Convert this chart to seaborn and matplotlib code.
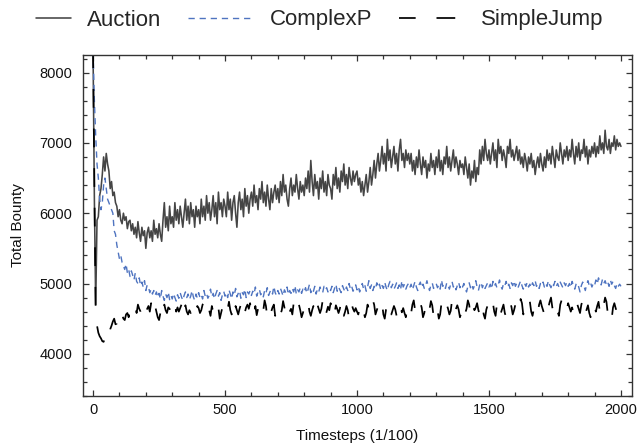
import numpy as np
import pandas as pd
import matplotlib
matplotlib.use("Agg")
import matplotlib.pyplot as plt
from matplotlib.ticker import MultipleLocator
from matplotlib.legend_handler import HandlerLine2D
import seaborn as sns

# ---------------- data ----------------
timesteps = list(range(0, 2001, 5))

auction = [
    8300, 6200, 4700, 5900, 5950, 6250, 6350, 6550, 6800, 6600, 6850, 6700, 6600, 6350, 6450, 6250, 6300, 6150, 6100, 5950,
    6050, 5900, 5850, 6000, 5900, 5950, 5780, 5880, 5900, 5750, 5850, 5700, 5800, 5650, 5880, 5720, 5600, 5800, 5680, 5750,
    5500, 5720, 5800, 5650, 5750, 5600, 5900, 5700, 5780, 5650, 5850, 5700, 5600, 5900, 6150, 5800, 5950, 5750, 6100, 5850,
    5950, 5800, 6150, 5900, 6050, 5850, 6100, 5950, 5800, 6000, 6200, 5900, 6100, 5850, 6150, 5950, 6050, 5800, 6100, 5950,
    6050, 5850, 6200, 5950, 6100, 5900, 6250, 6000, 6150, 5900, 6050, 6250, 5950, 6150, 5850, 6300, 6050, 6150, 5950, 6200,
    6100, 5950, 6300, 6050, 6200, 5900, 6150, 6250, 6000, 5800, 6150, 6300, 6050, 6200, 5950, 6350, 6100, 6250, 6000, 6200,
    6300, 6100, 6400, 6150, 6250, 6050, 6350, 6200, 6450, 6150, 6300, 6100, 6400, 6200, 6050, 6350, 6150, 6300, 6400, 6200,
    6350, 6150, 6450, 6250, 6550, 6300, 6400, 6200, 6100, 6350, 6500, 6250, 6400, 6300, 6550, 6350, 6200, 6450, 6300, 6400,
    6250, 6500, 6350, 6600, 6300, 6750, 6450, 6250, 6550, 6350, 6450, 6200, 6500, 6350, 6600, 6300, 6450, 6250, 6550, 6400,
    6350, 6200, 6550, 6400, 6650, 6350, 6500, 6300, 6600, 6450, 6700, 6400, 6550, 6350, 6650, 6500, 6400, 6600, 6450, 6550,
    6600, 6400, 6500, 6300, 6450, 6250, 6400, 6550, 6300, 6450, 6650, 6400, 6550, 6750, 6500, 6700, 6850, 6600, 6750, 6950,
    6700, 6850, 6600, 7050, 6750, 6900, 6650, 6800, 6950, 6700, 6850, 6600, 6900, 7050, 6750, 6850, 6650, 6900, 6750, 6850,
    6700, 6850, 6600, 6750, 6550, 6800, 6650, 6900, 6700, 6550, 6800, 6650, 6750, 6500, 6700, 6600, 6850, 6650, 6750, 6550,
    6800, 6650, 6900, 6600, 6750, 6550, 6800, 6700, 6950, 6650, 6800, 6600, 6750, 6900, 6650, 6800, 6700, 6550, 6750, 6650,
    6700, 6550, 6800, 6650, 6500, 6700, 6400, 6600, 6500, 6750, 6450, 6650, 6550, 6900, 6700, 6950, 6750, 7050, 6850, 6750,
    6900, 6700, 6850, 7000, 6750, 6900, 6650, 7050, 6850, 6950, 6750, 6900, 6800, 6650, 6950, 6850, 7050, 6800, 6900, 6750,
    6850, 6950, 6750, 6900, 6700, 6800, 6650, 6850, 6750, 6600, 6800, 6700, 6850, 6650, 6750, 6550, 6700, 6800, 6650, 6850,
    6700, 6600, 6800, 6650, 6900, 6750, 6850, 6700, 6950, 6800, 6650, 6900, 6800, 6750, 7000, 6850, 6700, 6900, 6800, 6950,
    6750, 6900, 6800, 7050, 6850, 6700, 6950, 6800, 7000, 6750, 6900, 6850, 7050, 6800, 6950, 6700, 6900, 6800, 6950, 6850,
    7000, 6800, 6950, 6850, 7100, 6900, 7000, 6850, 7180, 6950, 6900, 7050, 6850, 7000, 6950, 7100, 6900, 7050, 6950, 7000,
    6950,
]

complexp = [
    8300, 7600, 7100, 6700, 6500, 6200, 6050, 6150, 6400, 6500, 6350, 6200, 6150, 6100, 6050, 6000, 5750, 5700, 5550, 5450,
    5350, 5400, 5300, 5250, 5200, 5280, 5150, 5200, 5100, 5180, 5120, 5050, 5150, 5030, 5000, 5080, 4970, 5020, 4950, 5040,
    4900, 4980, 4950, 4870, 4920, 4850, 4900, 4830, 4880, 4800, 4860, 4780, 4900, 4820, 4760, 4850, 4800, 4880, 4770, 4830,
    4780, 4860, 4800, 4750, 4840, 4790, 4870, 4810, 4760, 4830, 4880, 4800, 4850, 4770, 4820, 4900, 4810, 4760, 4850, 4790,
    4870, 4800, 4840, 4780, 4900, 4820, 4860, 4790, 4830, 4920, 4810, 4860, 4780, 4850, 4900, 4820, 4870, 4760, 4840, 4890,
    4820, 4870, 4800, 4910, 4850, 4780, 4880, 4830, 4930, 4810, 4860, 4900, 4790, 4870, 4840, 4920, 4800, 4880, 4850, 4900,
    4830, 4890, 4850, 4950, 4820, 4880, 4920, 4840, 4870, 4810, 4900, 4860, 4940, 4830, 4880, 4910, 4850, 4960, 4870, 4830,
    4900, 4850, 4930, 4880, 4820, 4910, 4870, 4950, 4840, 4900, 4860, 4930, 4880, 4970, 4850, 4910, 4880, 4940, 4860, 4920,
    4880, 4940, 4860, 4920, 4990, 4870, 4930, 4890, 4960, 4850, 4920, 4880, 4950, 4900, 4870, 4960, 4910, 4940, 4880, 4930,
    4900, 4960, 4870, 4930, 4990, 4890, 4950, 4910, 4870, 4970, 4920, 4880, 4950, 4900, 5000, 4920, 4960, 4890, 4940, 4980,
    4910, 4960, 4880, 4940, 5000, 4920, 4970, 4890, 4950, 5040, 4930, 4980, 4900, 4960, 4920, 5010, 4940, 4990, 4910, 4970,
    4930, 5020, 4950, 4900, 4980, 5030, 4940, 4990, 4920, 4960, 5010, 4930, 4980, 4910, 5040, 4950, 4990, 4920, 4970, 5000,
    4940, 4990, 4910, 4970, 5030, 4950, 4900, 4980, 5020, 4940, 4990, 4930, 4970, 5040, 4950, 4900, 4980, 5010, 4930, 4970,
    5000, 4940, 4980, 4920, 5050, 4960, 4990, 4930, 5010, 4970, 4920, 4990, 5030, 4950, 4980, 4910, 4970, 5020, 4940, 4990,
    4950, 5000, 4930, 4880, 4960, 5010, 4940, 4990, 4920, 4970, 5040, 4950, 4900, 4980, 5020, 4940, 4990, 4930, 4970, 5010,
    4950, 4990, 4920, 5030, 4960, 5000, 4940, 4980, 5050, 4960, 4920, 5000, 4970, 5030, 4950, 4990, 4930, 5010, 4970, 5040,
    4960, 5000, 4940, 4990, 5040, 4970, 4920, 5000, 4960, 5020, 4950, 4990, 4940, 5010, 4970, 5040, 4960, 4990, 4930, 5000,
    4970, 5020, 4950, 5000, 4960, 5040, 4980, 4940, 5010, 4970, 5030, 4960, 5000, 4950, 5020, 4980, 4940, 5010, 4970, 5020,
    4960, 5000, 4940, 5030, 4970, 4920, 4990, 5010, 4950, 4880, 4970, 5020, 4960, 4900, 4990, 5040, 4970, 5010, 4950, 5000,
    4970, 5050, 4990, 5080, 5020, 4980, 5060, 5000, 5040, 4980, 5020, 4960, 5050, 4990, 5030, 4970, 4930, 5000, 4960, 4990,
    4960,
]

simplejump = [
    8300, 6500, 4550, 4400, 4300, 4250, 4220, 4180, 4170, 4230, 4300, 4260, 4240, 4350, 4400, 4460, 4500, 4420, 4430, 4480,
    4520, 4460, 4560, 4500, 4480, 4560, 4580, 4520, 4620, 4560, 4560, 4620, 4660, 4580, 4700, 4640, 4600, 4530, 4480, 4560,
    4560, 4640, 4680, 4600, 4720, 4650, 4760, 4680, 4600, 4520, 4480, 4580, 4650, 4560, 4700, 4620, 4580, 4660, 4640, 4560,
    4560, 4640, 4700, 4600, 4660, 4600, 4650, 4700, 4540, 4620, 4690, 4600, 4560, 4620, 4580, 4660, 4700, 4620, 4600, 4680,
    4650, 4580, 4620, 4700, 4720, 4620, 4600, 4540, 4620, 4540, 4680, 4600, 4560, 4620, 4700, 4650, 4500, 4580, 4660, 4620,
    4560, 4660, 4640, 4740, 4620, 4560, 4600, 4500, 4680, 4620, 4560, 4640, 4700, 4640, 4520, 4590, 4660, 4700, 4640, 4720,
    4600, 4660, 4580, 4680, 4550, 4640, 4700, 4640, 4560, 4620, 4760, 4680, 4520, 4580, 4650, 4600, 4660, 4700, 4540, 4600,
    4680, 4600, 4560, 4620, 4750, 4660, 4540, 4600, 4660, 4600, 4640, 4560, 4720, 4620, 4580, 4640, 4700, 4620, 4520, 4580,
    4650, 4600, 4660, 4720, 4600, 4540, 4620, 4680, 4550, 4640, 4700, 4640, 4580, 4640, 4760, 4680, 4540, 4600, 4670, 4620,
    4720, 4660, 4520, 4580, 4690, 4640, 4580, 4640, 4750, 4680, 4540, 4600, 4680, 4620, 4500, 4550, 4700, 4640, 4600, 4650,
    4600, 4560, 4660, 4720, 4660, 4600, 4520, 4580, 4700, 4640, 4580, 4640, 4760, 4700, 4560, 4620, 4680, 4620, 4660, 4720,
    4560, 4500, 4630, 4690, 4740, 4680, 4560, 4620, 4680, 4630, 4540, 4600, 4720, 4660, 4590, 4650, 4580, 4520, 4640, 4700,
    4640, 4580, 4700, 4760, 4620, 4560, 4620, 4680, 4720, 4660, 4520, 4580, 4700, 4640, 4580, 4640, 4750, 4690, 4540, 4600,
    4680, 4620, 4500, 4560, 4720, 4660, 4600, 4650, 4700, 4640, 4560, 4610, 4760, 4700, 4580, 4640, 4690, 4630, 4520, 4580,
    4700, 4640, 4580, 4640, 4760, 4700, 4540, 4600, 4680, 4620, 4660, 4720, 4620, 4560, 4640, 4700, 4560, 4500, 4630, 4690,
    4650, 4590, 4660, 4720, 4600, 4540, 4700, 4760, 4640, 4580, 4640, 4700, 4580, 4520, 4620, 4680, 4730, 4670, 4560, 4620,
    4700, 4640, 4590, 4650, 4780, 4720, 4560, 4620, 4690, 4630, 4680, 4740, 4600, 4540, 4640, 4700, 4650, 4590, 4700, 4760,
    4680, 4620, 4560, 4620, 4720, 4660, 4740, 4800, 4660, 4600, 4650, 4710, 4600, 4540, 4700, 4760, 4680, 4620, 4580, 4640,
    4720, 4660, 4600, 4660, 4580, 4520, 4640, 4700, 4640, 4580, 4700, 4760, 4620, 4560, 4630, 4690, 4580, 4520, 4660, 4720,
    4660, 4600, 4680, 4740, 4600, 4540, 4640, 4700, 4800, 4740, 4580, 4640, 4560, 4500, 4660, 4720, 4650, 4590, 4540, 4600,
    4680,
]

series_names = ["Auction", "ComplexP", "SimpleJump"]
x_ticks = [0, 500, 1000, 1500, 2000]
y_ticks = [4000, 5000, 6000, 7000, 8000]

# ---------------- style ----------------
sns.set_style("ticks")
plt.rcParams["font.family"] = ["Liberation Sans", "DejaVu Sans"]
plt.rcParams["lines.scale_dashes"] = False

fig = plt.figure(figsize=(6.39, 4.48), dpi=100)
ax = fig.add_axes([82.5 / 639, 1 - 396 / 448, (631.5 - 82.5) / 639, (396 - 55) / 448])

n = min(len(auction), len(complexp), len(simplejump), len(timesteps))
df = pd.DataFrame({"t": timesteps[:n], "Auction": auction[:n],
                   "ComplexP": complexp[:n], "SimpleJump": simplejump[:n]})

styles = {
    "Auction": dict(color="#454545", linewidth=1.15, linestyle="-"),
    "ComplexP": dict(color="#4f74c0", linewidth=1.0, linestyle=(0, (4.5, 3.5))),
    "SimpleJump": dict(color="black", linewidth=1.25, linestyle=(1.5, (13.5, 15.0))),
}
for name in series_names:
    sns.lineplot(data=df, x="t", y=name, ax=ax, label=name,
                 errorbar=None, sort=False, **styles[name])

ax.set_xlim(-40, 2040)
ax.set_ylim(3400, 8250)
ax.set_xticks(x_ticks)
ax.set_yticks(y_ticks)
ax.xaxis.set_minor_locator(MultipleLocator(100))
ax.yaxis.set_minor_locator(MultipleLocator(200))

ax.tick_params(which="both", direction="in", top=True, right=True,
               color="#333333", width=0.9)
ax.tick_params(which="major", length=4.5)
ax.tick_params(which="minor", length=2.8)
ax.tick_params(axis="x", which="major", labelsize=10.5, pad=5, labelcolor="#111111")
ax.tick_params(axis="y", which="major", labelsize=10.5, pad=7.5, labelcolor="#111111")
for sp in ax.spines.values():
    sp.set_visible(True)
    sp.set_color("#333333")
    sp.set_linewidth(1.0)

ax.set_xlabel("Timesteps (1/100)", fontsize=11, labelpad=8.5, color="#111111")
ax.set_ylabel("Total Bounty", fontsize=11, labelpad=10, color="#111111")


class PartialHandler(HandlerLine2D):
    """Draw the legend line over only the right part of the handle box."""
    def __init__(self, frac, **kw):
        super().__init__(**kw)
        self.frac = frac

    def create_artists(self, legend, orig_handle, xdescent, ydescent,
                       width, height, fontsize, trans):
        w2 = width * self.frac
        return super().create_artists(legend, orig_handle,
                                      xdescent - (width - w2), ydescent,
                                      w2, height, fontsize, trans)


lines = ax.get_lines()[:3]
leg = ax.legend(handles=lines, labels=series_names, ncol=3, frameon=False,
                loc="center", bbox_to_anchor=(304 / 639, 1 - 20 / 448),
                bbox_transform=fig.transFigure, fontsize=16,
                handlelength=3.0, handletextpad=0.7, columnspacing=1.2,
                handler_map={lines[0]: PartialHandler(0.52)})

fig.savefig("out.png", dpi=100)
